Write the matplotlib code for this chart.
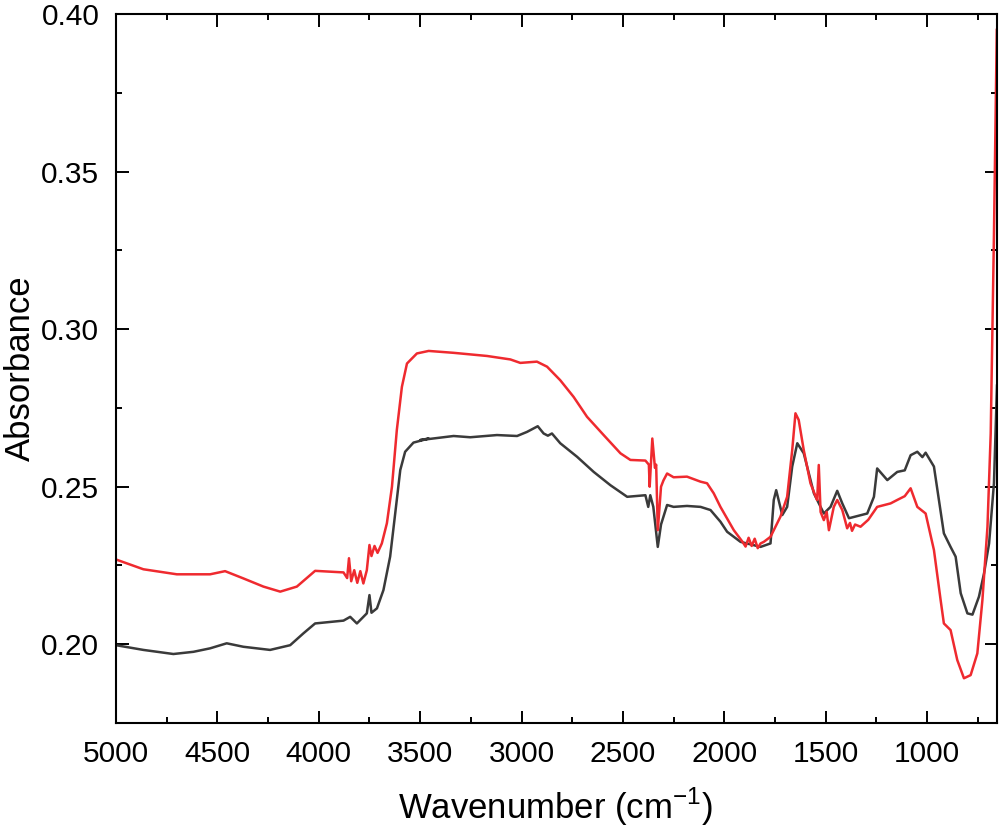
import matplotlib
matplotlib.use("Agg")
import matplotlib.pyplot as plt
from matplotlib.ticker import MultipleLocator, FormatStrFormatter

plt.rcParams['font.family'] = ['Liberation Sans', 'DejaVu Sans']
plt.rcParams['mathtext.fontset'] = 'custom'
plt.rcParams['mathtext.rm'] = 'Liberation Sans'

# Black (dark grey) spectrum
black_wn = [5000, 4865, 4717, 4618, 4536, 4454, 4372, 4240, 4141, 4075, 4018, 3878, 3845,
            3812, 3763, 3750, 3740, 3713, 3681, 3648, 3623, 3598, 3574, 3533, 3458, 3500,
            3335, 3253, 3121, 3022, 2973, 2920, 2891, 2870, 2850, 2809, 2726, 2644, 2562,
            2479, 2389, 2375, 2365, 2350, 2328, 2312, 2282, 2250, 2184, 2117, 2068, 2019,
            1986, 1920, 1821, 1772, 1756, 1744, 1714, 1690, 1665, 1640, 1608, 1558, 1509,
            1476, 1443, 1418, 1385, 1295, 1262, 1246, 1196, 1147, 1110, 1081, 1048, 1023,
            1007, 966, 917, 884, 859, 834, 801, 776, 744, 719, 694, 670, 655]
black_abs = [0.1997, 0.1982, 0.1969, 0.1976, 0.1987, 0.2003, 0.1992, 0.1982, 0.1997, 0.2035,
             0.2066, 0.2075, 0.2087, 0.2066, 0.2098, 0.2156, 0.2100, 0.2114, 0.2172, 0.2278,
             0.2415, 0.2553, 0.2611, 0.2640, 0.2653, 0.2648, 0.2661, 0.2657, 0.2664, 0.2661,
             0.2674, 0.2692, 0.2669, 0.2662, 0.2669, 0.2638, 0.2595, 0.2547, 0.2505, 0.2468,
             0.2473, 0.2436, 0.2473, 0.2436, 0.2309, 0.2380, 0.2442, 0.2436, 0.2439, 0.2436,
             0.2426, 0.2389, 0.2357, 0.2325, 0.2309, 0.2320, 0.2458, 0.2489, 0.2410, 0.2436,
             0.2564, 0.2638, 0.2606, 0.2479, 0.2415, 0.2436, 0.2487, 0.2447, 0.2400, 0.2415,
             0.2468, 0.2558, 0.2521, 0.2547, 0.2552, 0.2600, 0.2611, 0.2594, 0.2608, 0.2564,
             0.2352, 0.2309, 0.2278, 0.2162, 0.2098, 0.2094, 0.2151, 0.2225, 0.2320, 0.2511,
             0.2821]

# Red spectrum
red_wn = [5000, 4865, 4700, 4536, 4462, 4372, 4273, 4190, 4108, 4018, 3878, 3860, 3851,
          3840, 3825, 3810, 3795, 3780, 3763, 3750, 3740, 3725, 3710, 3689, 3664, 3639,
          3615, 3590, 3565, 3516, 3458, 3335, 3170, 3055, 3006, 2924, 2874, 2809, 2743,
          2677, 2595, 2512, 2463, 2389, 2372, 2368, 2355, 2342, 2336, 2328, 2312, 2300,
          2282, 2250, 2184, 2117, 2085, 2052, 2019, 1953, 1910, 1895, 1880, 1865, 1850,
          1835, 1821, 1805, 1772, 1723, 1690, 1665, 1649, 1633, 1608, 1575, 1550, 1542,
          1534, 1525, 1509, 1495, 1484, 1460, 1443, 1418, 1405, 1394, 1380, 1370, 1355,
          1328, 1290, 1246, 1180, 1147, 1110, 1081, 1048, 1007, 966, 933, 917, 884, 851,
          818, 785, 752, 727, 702, 686, 670, 656]
red_abs = [0.2269, 0.2238, 0.2222, 0.2222, 0.2232, 0.2209, 0.2183, 0.2167, 0.2183, 0.2233,
           0.2228, 0.2210, 0.2273, 0.2200, 0.2235, 0.2195, 0.2232, 0.2193, 0.2235, 0.2315,
           0.2280, 0.2312, 0.2290, 0.2320, 0.2384, 0.2500, 0.2680, 0.2817, 0.2891, 0.2923,
           0.2931, 0.2925, 0.2915, 0.2904, 0.2893, 0.2897, 0.2881, 0.2838, 0.2785, 0.2722,
           0.2664, 0.2606, 0.2585, 0.2583, 0.2570, 0.2500, 0.2653, 0.2560, 0.2570, 0.2362,
           0.2500, 0.2520, 0.2542, 0.2530, 0.2532, 0.2516, 0.2511, 0.2479, 0.2436, 0.2362,
           0.2325, 0.2310, 0.2338, 0.2312, 0.2335, 0.2305, 0.2320, 0.2325, 0.2341, 0.2405,
           0.2468, 0.2616, 0.2733, 0.2712, 0.2616, 0.2511, 0.2470, 0.2458, 0.2569, 0.2420,
           0.2394, 0.2420, 0.2362, 0.2436, 0.2458, 0.2426, 0.2395, 0.2368, 0.2385, 0.2360,
           0.2380, 0.2373, 0.2395, 0.2436, 0.2447, 0.2458, 0.2470, 0.2495, 0.2436, 0.2415,
           0.2299, 0.2140, 0.2066, 0.2045, 0.1950, 0.1892, 0.1902, 0.1971, 0.2140, 0.2373,
           0.2669, 0.3300, 0.3950]

x_ticks = [5000, 4500, 4000, 3500, 3000, 2500, 2000, 1500, 1000]
y_ticks = [0.20, 0.25, 0.30, 0.35, 0.40]

fig = plt.figure(figsize=(10, 8.32), dpi=100)
ax = fig.add_axes([0.116, 0.131, 0.881, 0.852])

ax.plot(black_wn, black_abs, color='#3a3a3a', lw=1.8)
ax.plot(red_wn, red_abs, color='#ef2a2f', lw=1.8)

ax.set_xlim(5000, 655)
ax.set_ylim(0.175, 0.40)
ax.set_xticks(x_ticks)
ax.set_yticks(y_ticks)
ax.xaxis.set_minor_locator(MultipleLocator(250))
ax.yaxis.set_minor_locator(MultipleLocator(0.025))
ax.yaxis.set_major_formatter(FormatStrFormatter('%.2f'))

ax.tick_params(which='both', direction='in', top=True, right=True, width=1.4,
               labelsize=21.5)
ax.tick_params(which='major', length=9)
ax.tick_params(which='minor', length=4.5)
ax.tick_params(axis='x', pad=12)
ax.tick_params(axis='y', pad=12)
for s in ax.spines.values():
    s.set_linewidth(1.5)

# axis titles placed as figure text at the reference positions
fig.text(0.5555, 13 / 832, 'Wavenumber (cm$^{\\mathregular{-1}}$)', fontsize=25,
         ha='center', va='baseline')
fig.text(0.02, 1 - 368.5 / 832, 'Absorbance', fontsize=25, rotation=90,
         ha='center', va='center')

fig.savefig('out.png', dpi=100)
